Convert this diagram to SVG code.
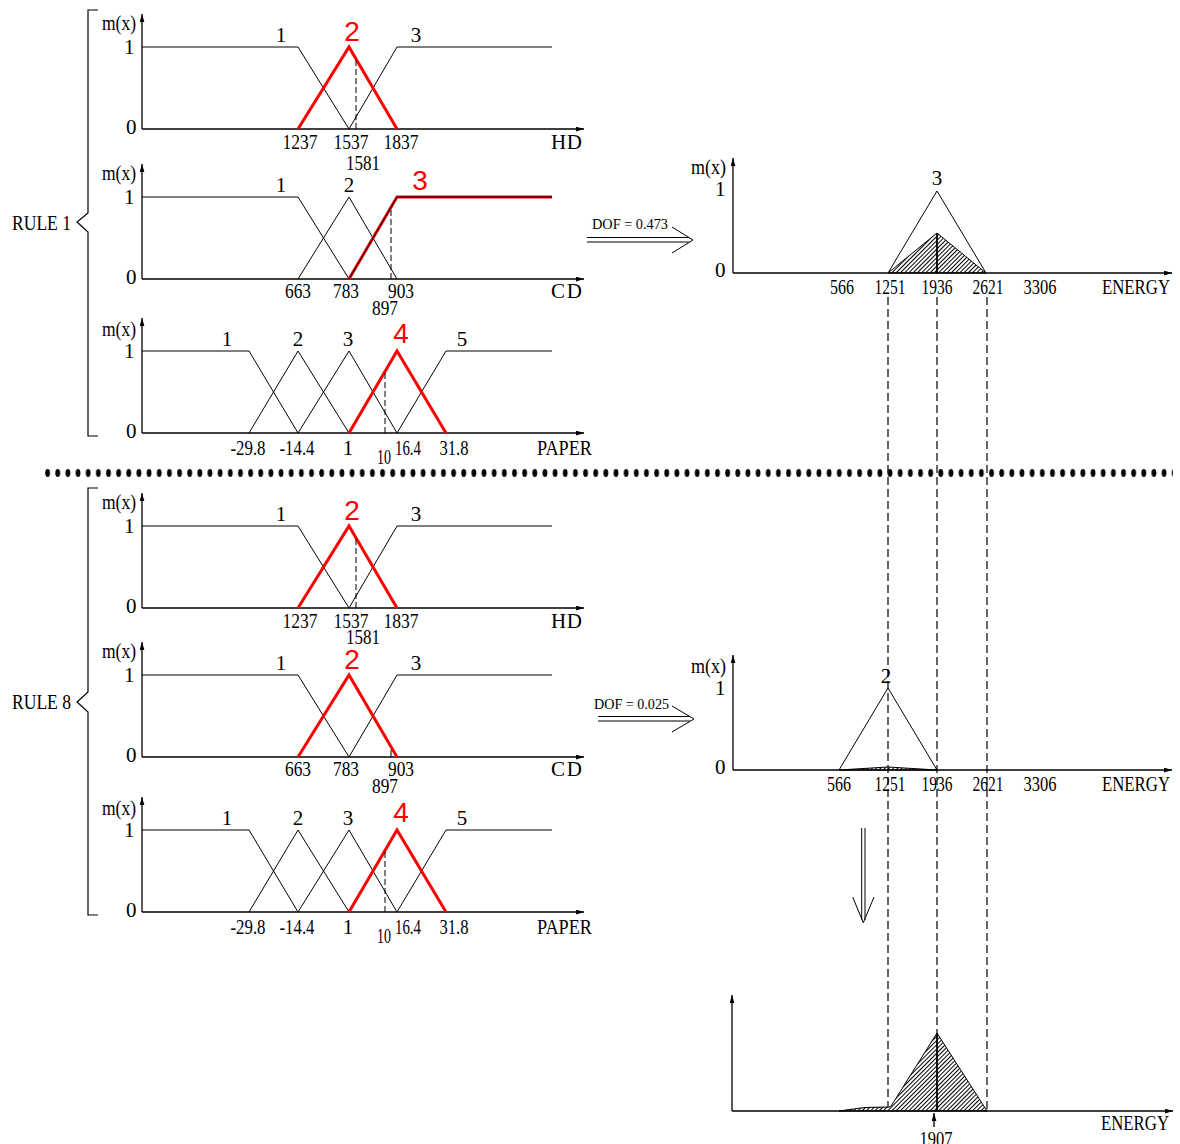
<svg xmlns="http://www.w3.org/2000/svg" width="1180" height="1144" viewBox="0 0 1180 1144">
<style>
.ax{stroke:#000;stroke-width:1.3;fill:none;marker-end:url(#ah)}
.mf{stroke:#000;stroke-width:1;fill:none}
.red{stroke:#f00;stroke-width:3;fill:none}
.dsh{stroke:#000;stroke-width:1;stroke-dasharray:6 3;fill:none}
.vd{stroke:#000;stroke-width:1.2;stroke-dasharray:8 4;fill:none}
.br{stroke:#000;stroke-width:1.2;fill:none}
.ln{stroke:#000;stroke-width:1;fill:none}
.sh{fill:url(#hatch);stroke:#000;stroke-width:1}
.vs{stroke:#000;stroke-width:1.8;fill:none}
text{font-family:"Liberation Serif","Times New Roman",serif;font-size:21px;fill:#000}
.c{text-anchor:middle}
.rl{font-family:"Liberation Sans",Arial,sans-serif;font-size:28px;fill:#f00;text-anchor:middle}
.sm{font-size:15px}
</style>
<defs>
<marker id="ah" viewBox="0 0 10 6" refX="10" refY="3" markerWidth="8" markerHeight="5" orient="auto" markerUnits="userSpaceOnUse"><path d="M0,0 L10,3 L0,6 z" fill="#000"/></marker>
<pattern id="hatch" patternUnits="userSpaceOnUse" width="3" height="3" patternTransform="rotate(45)"><line x1="0.5" y1="0" x2="0.5" y2="3" stroke="#000" stroke-width="1"/></pattern>
<pattern id="dots" patternUnits="userSpaceOnUse" x="45" y="468" width="10.15" height="10"><ellipse cx="2.6" cy="5" rx="2.4" ry="4" fill="#000"/></pattern>
</defs>

<g id="separator"><rect x="45" y="468" width="1128" height="10" fill="url(#dots)"/></g>

<g id="rule1-label">
<path class="br" d="M98,10 H88 V213 L77,222 L88,232 V436 H98"/>
<text x="12" y="230" textLength="59" lengthAdjust="spacingAndGlyphs">RULE 1</text>
</g>
<g id="rule8-label">
<path class="br" d="M98,488 H88 V692 L77,702 L88,712 V915 H98"/>
<text x="12" y="709" textLength="59" lengthAdjust="spacingAndGlyphs">RULE 8</text>
</g>

<!-- RULE 1 HD -->
<g id="r1-hd" transform="translate(0,129)">
<path class="ax" d="M142,0 V-115"/><path class="ax" d="M142,0 H584"/>
<text x="102" y="-99" textLength="34" lengthAdjust="spacingAndGlyphs">m(x)</text>
<text x="124" y="-75">1</text><text x="126" y="5">0</text>
<path class="mf" d="M142,-82 H298 L349,0"/><path class="mf" d="M349,0 L397,-82 H552"/>
<path class="red" d="M298,0 L349,-82 L397,0"/>
<path class="dsh" d="M356,0 V-70"/>
<text class="c" x="281" y="-87">1</text><text class="rl" x="352" y="-88">2</text><text class="c" x="416" y="-87">3</text>
<text class="c" x="300" y="20" textLength="35" lengthAdjust="spacingAndGlyphs">1237</text>
<text class="c" x="351" y="20" textLength="35" lengthAdjust="spacingAndGlyphs">1537</text>
<text class="c" x="401" y="20" textLength="35" lengthAdjust="spacingAndGlyphs">1837</text>
<text class="c" x="363" y="41" textLength="34" lengthAdjust="spacingAndGlyphs">1581</text>
<text x="551" y="20" textLength="31" lengthAdjust="spacing">HD</text>
</g>

<!-- RULE 1 CD -->
<g id="r1-cd" transform="translate(0,279)">
<path class="ax" d="M142,0 V-115"/><path class="ax" d="M142,0 H584"/>
<text x="102" y="-99" textLength="34" lengthAdjust="spacingAndGlyphs">m(x)</text>
<text x="124" y="-75">1</text><text x="126" y="5">0</text>
<path class="mf" d="M142,-82 H298 L349,0"/><path class="mf" d="M298,0 L349,-82 L397,0"/>
<path class="red" d="M349,0 L397,-82 H552"/><path class="mf" d="M349,0 L397,-82 H552"/>
<path class="dsh" d="M391,0 V-71"/>
<text class="c" x="281" y="-87">1</text><text class="c" x="349" y="-87">2</text><text class="rl" x="420" y="-89">3</text>
<text class="c" x="298" y="19" textLength="26" lengthAdjust="spacingAndGlyphs">663</text>
<text class="c" x="346" y="19" textLength="26" lengthAdjust="spacingAndGlyphs">783</text>
<text class="c" x="401" y="19" textLength="26" lengthAdjust="spacingAndGlyphs">903</text>
<text class="c" x="385" y="36" textLength="26" lengthAdjust="spacingAndGlyphs">897</text>
<text x="551" y="19" textLength="31" lengthAdjust="spacing">CD</text>
</g>

<!-- RULE 1 PAPER -->
<g id="r1-paper" transform="translate(0,433)">
<path class="ax" d="M142,0 V-115"/><path class="ax" d="M142,0 H584"/>
<text x="102" y="-97" textLength="34" lengthAdjust="spacingAndGlyphs">m(x)</text>
<text x="124" y="-75">1</text><text x="126" y="5">0</text>
<path class="mf" d="M142,-82 H249 L298,0"/><path class="mf" d="M249,0 L298,-82 L349,0"/>
<path class="mf" d="M298,0 L349,-82 L397,0"/><path class="mf" d="M397,0 L446,-82 H552"/>
<path class="red" d="M349,0 L397,-82 L446,0"/>
<path class="dsh" d="M385,0 V-60"/>
<text class="c" x="227" y="-87">1</text><text class="c" x="298" y="-87">2</text><text class="c" x="348" y="-87">3</text>
<text class="rl" x="401" y="-90">4</text><text class="c" x="462" y="-87">5</text>
<text class="c" x="248" y="22" textLength="35" lengthAdjust="spacingAndGlyphs">-29.8</text>
<text class="c" x="297" y="22" textLength="35" lengthAdjust="spacingAndGlyphs">-14.4</text>
<text class="c" x="348" y="22">1</text>
<text class="c" x="408" y="22" textLength="26" lengthAdjust="spacingAndGlyphs">16.4</text>
<text class="c" x="454" y="22" textLength="29" lengthAdjust="spacingAndGlyphs">31.8</text>
<text class="c" x="384" y="31" textLength="14" lengthAdjust="spacingAndGlyphs">10</text>
<text x="537" y="22" textLength="55" lengthAdjust="spacingAndGlyphs">PAPER</text>
</g>

<!-- RULE 8 HD -->
<g id="r8-hd" transform="translate(0,608)">
<path class="ax" d="M142,0 V-115"/><path class="ax" d="M142,0 H584"/>
<text x="102" y="-99" textLength="34" lengthAdjust="spacingAndGlyphs">m(x)</text>
<text x="124" y="-75">1</text><text x="126" y="5">0</text>
<path class="mf" d="M142,-82 H298 L349,0"/><path class="mf" d="M349,0 L397,-82 H552"/>
<path class="red" d="M298,0 L349,-82 L397,0"/>
<path class="dsh" d="M356,0 V-70"/>
<text class="c" x="281" y="-87">1</text><text class="rl" x="352" y="-88">2</text><text class="c" x="416" y="-87">3</text>
<text class="c" x="300" y="20" textLength="35" lengthAdjust="spacingAndGlyphs">1237</text>
<text class="c" x="351" y="20" textLength="35" lengthAdjust="spacingAndGlyphs">1537</text>
<text class="c" x="401" y="20" textLength="35" lengthAdjust="spacingAndGlyphs">1837</text>
<text class="c" x="363" y="36" textLength="34" lengthAdjust="spacingAndGlyphs">1581</text>
<text x="551" y="20" textLength="31" lengthAdjust="spacing">HD</text>
</g>

<!-- RULE 8 CD -->
<g id="r8-cd" transform="translate(0,757)">
<path class="ax" d="M142,0 V-115"/><path class="ax" d="M142,0 H584"/>
<text x="102" y="-99" textLength="34" lengthAdjust="spacingAndGlyphs">m(x)</text>
<text x="124" y="-75">1</text><text x="126" y="5">0</text>
<path class="mf" d="M142,-82 H298 L349,0"/><path class="mf" d="M349,0 L397,-82 H552"/>
<path class="red" d="M298,0 L349,-82 L397,0"/>
<path class="ln" d="M391,0 V-7"/>
<text class="c" x="281" y="-87">1</text><text class="rl" x="352" y="-88">2</text><text class="c" x="416" y="-87">3</text>
<text class="c" x="298" y="19" textLength="26" lengthAdjust="spacingAndGlyphs">663</text>
<text class="c" x="346" y="19" textLength="26" lengthAdjust="spacingAndGlyphs">783</text>
<text class="c" x="401" y="19" textLength="26" lengthAdjust="spacingAndGlyphs">903</text>
<text class="c" x="385" y="36" textLength="26" lengthAdjust="spacingAndGlyphs">897</text>
<text x="551" y="19" textLength="31" lengthAdjust="spacing">CD</text>
</g>

<!-- RULE 8 PAPER -->
<g id="r8-paper" transform="translate(0,912)">
<path class="ax" d="M142,0 V-115"/><path class="ax" d="M142,0 H584"/>
<text x="102" y="-97" textLength="34" lengthAdjust="spacingAndGlyphs">m(x)</text>
<text x="124" y="-75">1</text><text x="126" y="5">0</text>
<path class="mf" d="M142,-82 H249 L298,0"/><path class="mf" d="M249,0 L298,-82 L349,0"/>
<path class="mf" d="M298,0 L349,-82 L397,0"/><path class="mf" d="M397,0 L446,-82 H552"/>
<path class="red" d="M349,0 L397,-82 L446,0"/>
<path class="dsh" d="M385,0 V-60"/>
<text class="c" x="227" y="-87">1</text><text class="c" x="298" y="-87">2</text><text class="c" x="348" y="-87">3</text>
<text class="rl" x="401" y="-90">4</text><text class="c" x="462" y="-87">5</text>
<text class="c" x="248" y="22" textLength="35" lengthAdjust="spacingAndGlyphs">-29.8</text>
<text class="c" x="297" y="22" textLength="35" lengthAdjust="spacingAndGlyphs">-14.4</text>
<text class="c" x="348" y="22">1</text>
<text class="c" x="408" y="22" textLength="26" lengthAdjust="spacingAndGlyphs">16.4</text>
<text class="c" x="454" y="22" textLength="29" lengthAdjust="spacingAndGlyphs">31.8</text>
<text class="c" x="384" y="31" textLength="14" lengthAdjust="spacingAndGlyphs">10</text>
<text x="537" y="22" textLength="55" lengthAdjust="spacingAndGlyphs">PAPER</text>
</g>

<!-- ENERGY RULE 1 -->
<g id="energy1" transform="translate(0,273)">
<path class="ax" d="M733,0 V-115"/><path class="ax" d="M733,0 H1172"/>
<text x="691" y="-99" textLength="35" lengthAdjust="spacingAndGlyphs">m(x)</text>
<text x="715" y="-77">1</text><text x="715" y="4">0</text>
<path class="mf" d="M888,0 L937,-82 L986,0"/>
<polygon class="sh" points="888,0 937,-40 986,0"/>
<path class="vs" d="M937,-40 V0"/>
<text class="c" x="937" y="-88">3</text>
<text class="c" x="842" y="21" textLength="24" lengthAdjust="spacingAndGlyphs">566</text>
<text class="c" x="890" y="21" textLength="31" lengthAdjust="spacingAndGlyphs">1251</text>
<text class="c" x="937" y="21" textLength="31" lengthAdjust="spacingAndGlyphs">1936</text>
<text class="c" x="988" y="21" textLength="31" lengthAdjust="spacingAndGlyphs">2621</text>
<text class="c" x="1040" y="21" textLength="33" lengthAdjust="spacingAndGlyphs">3306</text>
<text x="1102" y="21" textLength="68" lengthAdjust="spacingAndGlyphs">ENERGY</text>
</g>

<!-- ENERGY RULE 8 -->
<g id="energy8" transform="translate(0,770)">
<path class="ax" d="M733,0 V-115"/><path class="ax" d="M733,0 H1172"/>
<text x="691" y="-97" textLength="35" lengthAdjust="spacingAndGlyphs">m(x)</text>
<text x="715" y="-75">1</text><text x="715" y="4">0</text>
<path class="mf" d="M839,0 L888,-82 L937,0"/>
<polygon class="sh" points="839,0 888,-3 937,0"/>
<text class="c" x="886" y="-87">2</text>
<text class="c" x="839" y="21" textLength="24" lengthAdjust="spacingAndGlyphs">566</text>
<text class="c" x="890" y="21" textLength="31" lengthAdjust="spacingAndGlyphs">1251</text>
<text class="c" x="937" y="21" textLength="31" lengthAdjust="spacingAndGlyphs">1936</text>
<text class="c" x="988" y="21" textLength="31" lengthAdjust="spacingAndGlyphs">2621</text>
<text class="c" x="1040" y="21" textLength="33" lengthAdjust="spacingAndGlyphs">3306</text>
<text x="1102" y="21" textLength="68" lengthAdjust="spacingAndGlyphs">ENERGY</text>
</g>

<!-- AGGREGATED OUTPUT -->
<g id="energy-out" transform="translate(0,1111)">
<path class="ax" d="M732,0 V-116"/><path class="ax" d="M732,0 H1173"/>
<path class="sh" d="M839,0 Q865,-5 890.5,-4 L937,-78 L987,0 Z"/>
<path class="vs" d="M937,-78 V0"/>
<path class="ax" d="M934,16 V2"/>
<text class="c" x="936" y="35" textLength="33" lengthAdjust="spacingAndGlyphs">1907</text>
<text x="1101" y="19" textLength="68" lengthAdjust="spacingAndGlyphs">ENERGY</text>
</g>

<g id="connectors">
<path class="vd" d="M888,297 V1107"/>
<path class="vd" d="M937,297 V1033"/>
<path class="vd" d="M987,297 V1111"/>
<g id="dof1">
<path class="ln" d="M587,237.5 H689 M587,242 H689 M672,227 L693,240 L672,253"/>
<text class="sm" x="592" y="229" textLength="76" lengthAdjust="spacingAndGlyphs">DOF = 0.473</text>
</g>
<g id="dof8">
<path class="ln" d="M598,716.5 H690 M598,721 H690 M672,706 L694,719 L672,732"/>
<text class="sm" x="594" y="709" textLength="75" lengthAdjust="spacingAndGlyphs">DOF = 0.025</text>
</g>
<g id="down-arrow">
<path class="ln" d="M861.7,828 V920 M865,828 V920 M852.7,897 L863.3,922.7 L874,897"/>
</g>
</g>
</svg>
